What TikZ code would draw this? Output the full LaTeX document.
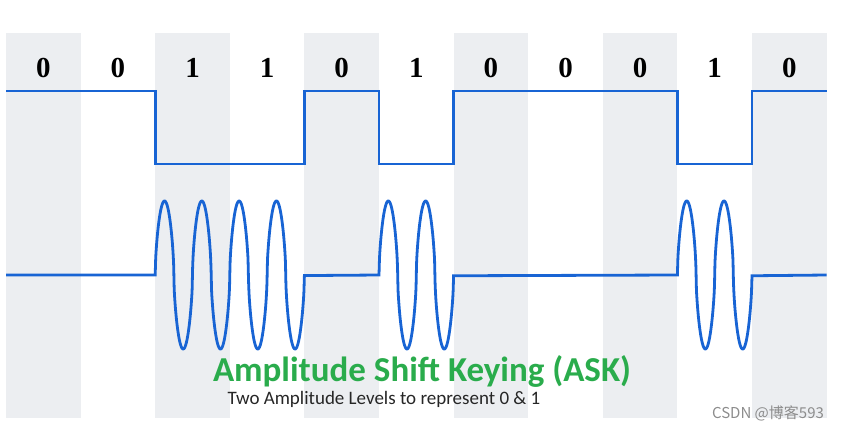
\documentclass[tikz,border=0pt]{standalone}
\usepackage{fontspec}
\setmainfont{Liberation Serif}
\newfontfamily\calib{Carlito}
\newfontfamily\cjk{Noto Sans CJK SC}
\definecolor{sigblue}{RGB}{24,100,212}
\definecolor{bandgray}{RGB}{236,238,241}
\definecolor{askgreen}{RGB}{42,172,76}

\begin{document}
\begin{tikzpicture}[
        x=1pt, y=-1pt,
        % grey background of every second bit slot
        band/.style={fill=bandgray, draw=none},
        signal/.style={draw=sigblue, line width=2.6pt, line join=miter},
        bitlabel/.style={font=\fontsize{29}{29}\selectfont\bfseries, inner sep=0pt},
        title/.style={font=\calib\bfseries\fontsize{35}{35}\selectfont, text=askgreen, inner sep=0pt},
        subtitle/.style={font=\calib\fontsize{19}{19}\selectfont, text=black!85, inner sep=0pt},
        % rounded carrier lobe, broader than a plain sine
        declare function={lobe(\t)=sign(sin(\t))*pow(abs(sin(\t))+0.0001,0.6);}
    ]
    \useasboundingbox (0,0) rectangle (859,434);
    \def\w{74.6}
    \def\hi{91}
    \def\lo{164}
    \def\base{275}
    % slot boundaries x0 ... x11
    \foreach \k in {0,...,11}
        \coordinate (x\k) at ({6+\k*\w},0);

    \foreach \k in {0,2,...,10}
        \fill[band] ({6+\k*\w},33) rectangle ({6+(\k+1)*\w},418);

    % bit values
    \foreach \b [count=\k from 0] in {0,0,1,1,0,1,0,0,0,1,0}
        \node[bitlabel] (bit\k) at ({6+(\k+0.5)*\w},68) {\b};

    % digital data signal
    \draw[signal] (x0 |- 0,\hi) -- (x2 |- 0,\hi) -- (x2 |- 0,\lo) -- (x4 |- 0,\lo)
        -- (x4 |- 0,\hi) -- (x5 |- 0,\hi) -- (x5 |- 0,\lo) -- (x6 |- 0,\lo)
        -- (x6 |- 0,\hi) -- (x9 |- 0,\hi) -- (x9 |- 0,\lo) -- (x10 |- 0,\lo)
        -- (x10 |- 0,\hi) -- (x11 |- 0,\hi);

    % ASK signal: carrier only during the 1 bits
    \draw[signal, line width=2.8pt] (x0 |- 0,\base)
        -- plot[domain={6+2*\w}:{6+4*\w}, samples=300, smooth] (\x, {\base-74*lobe(720*((\x-6-2*\w)/\w))})
        -- (x5 |- 0,\base)
        -- plot[domain={6+5*\w}:{6+6*\w}, samples=150, smooth] (\x, {\base-74*lobe(720*((\x-6-5*\w)/\w))})
        -- (x9 |- 0,\base)
        -- plot[domain={6+9*\w}:{6+10*\w}, samples=150, smooth] (\x, {\base-74*lobe(720*((\x-6-9*\w)/\w))})
        -- (x11 |- 0,\base);

    \node[title] (ask) at (422,371) {Amplitude Shift Keying (ASK)};
    \node[subtitle] (levels) at (384,399) {Two Amplitude Levels to represent 0 \& 1};
    \node[font=\cjk\fontsize{15}{15}\selectfont, text=black!45, inner sep=0pt] (mark) at (768,413) {CSDN @博客593};
\end{tikzpicture}
\end{document}
